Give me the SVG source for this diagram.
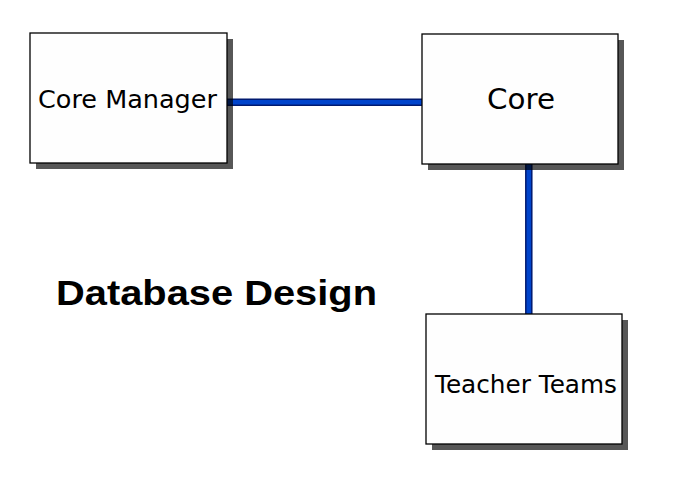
<svg xmlns="http://www.w3.org/2000/svg" width="676" height="486" viewBox="0 0 676 486">
<style>
.shadow{fill:#000;fill-opacity:0.66}
.box{fill:#fefefe;stroke:#000;stroke-width:1.3}
.lbl{font-family:"DejaVu Sans",Verdana,sans-serif;fill:#000;text-anchor:middle}
.edge{stroke:#001a70;stroke-width:7.5;fill:none}
.core{stroke:#0044cc;stroke-width:4.5;fill:none}
.title{font-family:"Liberation Sans",Arial,Helvetica,sans-serif;font-weight:bold;fill:#000}
</style>
<rect width="676" height="486" fill="#fff"/>
<g id="connectors">
<line class="edge" x1="227" y1="102.3" x2="422" y2="102.3"/>
<line class="core" x1="227" y1="102.3" x2="422" y2="102.3"/>
<line class="edge" x1="528.8" y1="164" x2="528.8" y2="314"/>
<line class="core" x1="528.8" y1="164" x2="528.8" y2="314"/>
</g>
<g id="core-manager">
<rect class="shadow" x="36" y="39" width="197" height="130"/>
<rect class="box" x="30" y="33" width="197" height="130"/>
<text class="lbl" x="127.5" y="108" font-size="25" textLength="179" lengthAdjust="spacingAndGlyphs">Core Manager</text>
</g>
<g id="core">
<rect class="shadow" x="428" y="40" width="196" height="130"/>
<rect class="box" x="422" y="34" width="196" height="130"/>
<text class="lbl" x="521" y="109" font-size="29" textLength="68" lengthAdjust="spacingAndGlyphs">Core</text>
</g>
<g id="teacher-teams">
<rect class="shadow" x="432" y="320" width="196" height="130"/>
<rect class="box" x="426" y="314" width="196" height="130"/>
<text class="lbl" x="526" y="392.5" font-size="24" textLength="182" lengthAdjust="spacingAndGlyphs">Teacher Teams</text>
</g>
<text class="title" x="56" y="305" font-size="35" textLength="321" lengthAdjust="spacingAndGlyphs">Database Design</text>
</svg>
